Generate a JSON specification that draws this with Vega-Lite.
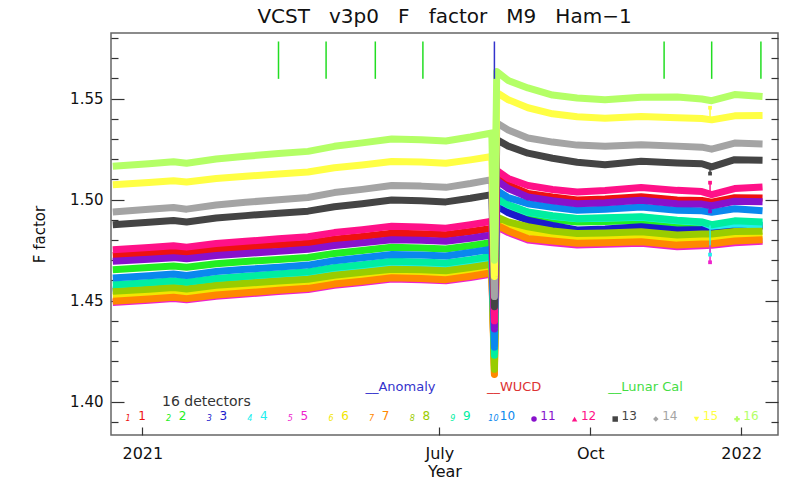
{
"$schema": "https://vega.github.io/schema/vega-lite/v6.json",
"width": 667, "height": 402,
"autosize": {"type": "none"},
"padding": {"left": 111, "top": 33, "right": 15, "bottom": 45},
"background": "#ffffff",
"title": {"text": "VCST\u00a0\u00a0\u00a0v3p0\u00a0\u00a0\u00a0F\u00a0\u00a0\u00a0factor\u00a0\u00a0\u00a0M9\u00a0\u00a0\u00a0Ham\u22121", "font": "DejaVu Sans", "fontSize": 20, "fontWeight": "normal", "color": "#111111", "anchor": "middle", "offset": 6},
"config": {"view": {"stroke": "#666666", "strokeWidth": 1.5}, "font": "DejaVu Sans"},
"datasets": {
"ff": [
{"d":1,"t":"2020-12-14","f":1.4724},{"d":1,"t":"2021-01-05","f":1.4735},{"d":1,"t":"2021-01-20","f":1.4743},{"d":1,"t":"2021-01-28","f":1.4736},{"d":1,"t":"2021-02-15","f":1.4754},{"d":1,"t":"2021-03-05","f":1.4764},{"d":1,"t":"2021-03-25","f":1.4775},{"d":1,"t":"2021-04-12","f":1.4784},{"d":1,"t":"2021-04-28","f":1.4804},{"d":1,"t":"2021-05-15","f":1.4818},{"d":1,"t":"2021-06-02","f":1.4834},{"d":1,"t":"2021-06-20","f":1.4831},{"d":1,"t":"2021-07-05","f":1.4826},{"d":1,"t":"2021-07-20","f":1.4842},{"d":1,"t":"2021-08-02","f":1.4858},
{"d":1,"t":"2021-08-03T14:00","f":1.425},
{"d":1,"t":"2021-08-05","f":1.5113},{"d":1,"t":"2021-08-12","f":1.5073},{"d":1,"t":"2021-08-24","f":1.5031},{"d":1,"t":"2021-09-08","f":1.5013},{"d":1,"t":"2021-09-23","f":1.4998},{"d":1,"t":"2021-10-10","f":1.5003},{"d":1,"t":"2021-11-01","f":1.5015},{"d":1,"t":"2021-11-23","f":1.4998},{"d":1,"t":"2021-12-08","f":1.4996},{"d":1,"t":"2021-12-14","f":1.4988},{"d":1,"t":"2021-12-28","f":1.5010},{"d":1,"t":"2022-01-14","f":1.5008},

{"d":2,"t":"2020-12-14","f":1.4653},{"d":2,"t":"2021-01-05","f":1.4664},{"d":2,"t":"2021-01-20","f":1.4672},{"d":2,"t":"2021-01-28","f":1.4665},{"d":2,"t":"2021-02-15","f":1.4683},{"d":2,"t":"2021-03-05","f":1.4694},{"d":2,"t":"2021-03-25","f":1.4704},{"d":2,"t":"2021-04-12","f":1.4714},{"d":2,"t":"2021-04-28","f":1.4734},{"d":2,"t":"2021-05-15","f":1.4748},{"d":2,"t":"2021-06-02","f":1.4764},{"d":2,"t":"2021-06-20","f":1.4761},{"d":2,"t":"2021-07-05","f":1.4756},{"d":2,"t":"2021-07-20","f":1.4772},{"d":2,"t":"2021-08-02","f":1.4788},
{"d":2,"t":"2021-08-03T14:00","f":1.432},
{"d":2,"t":"2021-08-05","f":1.4987},{"d":2,"t":"2021-08-12","f":1.4957},{"d":2,"t":"2021-08-24","f":1.4921},{"d":2,"t":"2021-09-08","f":1.4902},{"d":2,"t":"2021-09-23","f":1.4889},{"d":2,"t":"2021-10-10","f":1.4892},{"d":2,"t":"2021-11-01","f":1.4897},{"d":2,"t":"2021-11-23","f":1.4880},{"d":2,"t":"2021-12-08","f":1.4872},{"d":2,"t":"2021-12-14","f":1.4858},{"d":2,"t":"2021-12-28","f":1.4877},{"d":2,"t":"2022-01-14","f":1.4872},

{"d":3,"t":"2020-12-14","f":1.4548},{"d":3,"t":"2021-01-05","f":1.4559},{"d":3,"t":"2021-01-20","f":1.4568},{"d":3,"t":"2021-01-28","f":1.4561},{"d":3,"t":"2021-02-15","f":1.4579},{"d":3,"t":"2021-03-05","f":1.4590},{"d":3,"t":"2021-03-25","f":1.4602},{"d":3,"t":"2021-04-12","f":1.4612},{"d":3,"t":"2021-04-28","f":1.4633},{"d":3,"t":"2021-05-15","f":1.4647},{"d":3,"t":"2021-06-02","f":1.4664},{"d":3,"t":"2021-06-20","f":1.4661},{"d":3,"t":"2021-07-05","f":1.4655},{"d":3,"t":"2021-07-20","f":1.4672},{"d":3,"t":"2021-08-02","f":1.4689},
{"d":3,"t":"2021-08-03T14:00","f":1.428},
{"d":3,"t":"2021-08-05","f":1.4970},{"d":3,"t":"2021-08-12","f":1.4935},{"d":3,"t":"2021-08-24","f":1.4898},{"d":3,"t":"2021-09-08","f":1.4872},{"d":3,"t":"2021-09-23","f":1.4850},{"d":3,"t":"2021-10-10","f":1.4855},{"d":3,"t":"2021-11-01","f":1.4866},{"d":3,"t":"2021-11-23","f":1.4850},{"d":3,"t":"2021-12-08","f":1.4852},{"d":3,"t":"2021-12-14","f":1.4856},{"d":3,"t":"2021-12-28","f":1.4866},{"d":3,"t":"2022-01-14","f":1.4870},

{"d":4,"t":"2020-12-14","f":1.4556},{"d":4,"t":"2021-01-05","f":1.4567},{"d":4,"t":"2021-01-20","f":1.4576},{"d":4,"t":"2021-01-28","f":1.4569},{"d":4,"t":"2021-02-15","f":1.4587},{"d":4,"t":"2021-03-05","f":1.4598},{"d":4,"t":"2021-03-25","f":1.4610},{"d":4,"t":"2021-04-12","f":1.4620},{"d":4,"t":"2021-04-28","f":1.4641},{"d":4,"t":"2021-05-15","f":1.4655},{"d":4,"t":"2021-06-02","f":1.4672},{"d":4,"t":"2021-06-20","f":1.4669},{"d":4,"t":"2021-07-05","f":1.4663},{"d":4,"t":"2021-07-20","f":1.4680},{"d":4,"t":"2021-08-02","f":1.4697},
{"d":4,"t":"2021-08-03T14:00","f":1.421},
{"d":4,"t":"2021-08-05","f":1.5003},{"d":4,"t":"2021-08-12","f":1.4973},{"d":4,"t":"2021-08-24","f":1.4937},{"d":4,"t":"2021-09-08","f":1.4918},{"d":4,"t":"2021-09-23","f":1.4905},{"d":4,"t":"2021-10-10","f":1.4908},{"d":4,"t":"2021-11-01","f":1.4913},{"d":4,"t":"2021-11-23","f":1.4896},{"d":4,"t":"2021-12-08","f":1.4888},{"d":4,"t":"2021-12-14","f":1.4868},{"d":4,"t":"2021-12-28","f":1.4880},{"d":4,"t":"2022-01-14","f":1.4874},

{"d":5,"t":"2020-12-14","f":1.4491},{"d":5,"t":"2021-01-05","f":1.4502},{"d":5,"t":"2021-01-20","f":1.4511},{"d":5,"t":"2021-01-28","f":1.4504},{"d":5,"t":"2021-02-15","f":1.4522},{"d":5,"t":"2021-03-05","f":1.4533},{"d":5,"t":"2021-03-25","f":1.4545},{"d":5,"t":"2021-04-12","f":1.4555},{"d":5,"t":"2021-04-28","f":1.4576},{"d":5,"t":"2021-05-15","f":1.4590},{"d":5,"t":"2021-06-02","f":1.4607},{"d":5,"t":"2021-06-20","f":1.4604},{"d":5,"t":"2021-07-05","f":1.4598},{"d":5,"t":"2021-07-20","f":1.4615},{"d":5,"t":"2021-08-02","f":1.4632},
{"d":5,"t":"2021-08-03T14:00","f":1.418},
{"d":5,"t":"2021-08-05","f":1.4866},{"d":5,"t":"2021-08-12","f":1.4837},{"d":5,"t":"2021-08-24","f":1.4800},{"d":5,"t":"2021-09-08","f":1.4787},{"d":5,"t":"2021-09-23","f":1.4776},{"d":5,"t":"2021-10-10","f":1.4779},{"d":5,"t":"2021-11-01","f":1.4784},{"d":5,"t":"2021-11-23","f":1.4767},{"d":5,"t":"2021-12-08","f":1.4772},{"d":5,"t":"2021-12-14","f":1.4774},{"d":5,"t":"2021-12-28","f":1.4787},{"d":5,"t":"2022-01-14","f":1.4794},

{"d":6,"t":"2020-12-14","f":1.4523},{"d":6,"t":"2021-01-05","f":1.4534},{"d":6,"t":"2021-01-20","f":1.4542},{"d":6,"t":"2021-01-28","f":1.4535},{"d":6,"t":"2021-02-15","f":1.4553},{"d":6,"t":"2021-03-05","f":1.4564},{"d":6,"t":"2021-03-25","f":1.4574},{"d":6,"t":"2021-04-12","f":1.4584},{"d":6,"t":"2021-04-28","f":1.4604},{"d":6,"t":"2021-05-15","f":1.4618},{"d":6,"t":"2021-06-02","f":1.4634},{"d":6,"t":"2021-06-20","f":1.4631},{"d":6,"t":"2021-07-05","f":1.4626},{"d":6,"t":"2021-07-20","f":1.4642},{"d":6,"t":"2021-08-02","f":1.4658},
{"d":6,"t":"2021-08-03T14:00","f":1.414},
{"d":6,"t":"2021-08-05","f":1.4891},{"d":6,"t":"2021-08-12","f":1.4866},{"d":6,"t":"2021-08-24","f":1.4842},{"d":6,"t":"2021-09-08","f":1.4821},{"d":6,"t":"2021-09-23","f":1.4809},{"d":6,"t":"2021-10-10","f":1.4811},{"d":6,"t":"2021-11-01","f":1.4817},{"d":6,"t":"2021-11-23","f":1.4801},{"d":6,"t":"2021-12-08","f":1.4806},{"d":6,"t":"2021-12-14","f":1.4806},{"d":6,"t":"2021-12-28","f":1.4818},{"d":6,"t":"2022-01-14","f":1.4819},

{"d":7,"t":"2020-12-14","f":1.4497},{"d":7,"t":"2021-01-05","f":1.4508},{"d":7,"t":"2021-01-20","f":1.4517},{"d":7,"t":"2021-01-28","f":1.4510},{"d":7,"t":"2021-02-15","f":1.4528},{"d":7,"t":"2021-03-05","f":1.4539},{"d":7,"t":"2021-03-25","f":1.4551},{"d":7,"t":"2021-04-12","f":1.4561},{"d":7,"t":"2021-04-28","f":1.4582},{"d":7,"t":"2021-05-15","f":1.4596},{"d":7,"t":"2021-06-02","f":1.4613},{"d":7,"t":"2021-06-20","f":1.4610},{"d":7,"t":"2021-07-05","f":1.4604},{"d":7,"t":"2021-07-20","f":1.4621},{"d":7,"t":"2021-08-02","f":1.4638},
{"d":7,"t":"2021-08-03T14:00","f":1.4135},
{"d":7,"t":"2021-08-05","f":1.4874},{"d":7,"t":"2021-08-12","f":1.4845},{"d":7,"t":"2021-08-24","f":1.4808},{"d":7,"t":"2021-09-08","f":1.4795},{"d":7,"t":"2021-09-23","f":1.4784},{"d":7,"t":"2021-10-10","f":1.4787},{"d":7,"t":"2021-11-01","f":1.4792},{"d":7,"t":"2021-11-23","f":1.4775},{"d":7,"t":"2021-12-08","f":1.4780},{"d":7,"t":"2021-12-14","f":1.4782},{"d":7,"t":"2021-12-28","f":1.4795},{"d":7,"t":"2022-01-14","f":1.4802},

{"d":8,"t":"2020-12-14","f":1.4546},{"d":8,"t":"2021-01-05","f":1.4557},{"d":8,"t":"2021-01-20","f":1.4565},{"d":8,"t":"2021-01-28","f":1.4558},{"d":8,"t":"2021-02-15","f":1.4576},{"d":8,"t":"2021-03-05","f":1.4586},{"d":8,"t":"2021-03-25","f":1.4597},{"d":8,"t":"2021-04-12","f":1.4606},{"d":8,"t":"2021-04-28","f":1.4626},{"d":8,"t":"2021-05-15","f":1.4640},{"d":8,"t":"2021-06-02","f":1.4656},{"d":8,"t":"2021-06-20","f":1.4653},{"d":8,"t":"2021-07-05","f":1.4648},{"d":8,"t":"2021-07-20","f":1.4664},{"d":8,"t":"2021-08-02","f":1.4680},
{"d":8,"t":"2021-08-03T14:00","f":1.416},
{"d":8,"t":"2021-08-05","f":1.4915},{"d":8,"t":"2021-08-12","f":1.4890},{"d":8,"t":"2021-08-24","f":1.4866},{"d":8,"t":"2021-09-08","f":1.4845},{"d":8,"t":"2021-09-23","f":1.4833},{"d":8,"t":"2021-10-10","f":1.4835},{"d":8,"t":"2021-11-01","f":1.4841},{"d":8,"t":"2021-11-23","f":1.4825},{"d":8,"t":"2021-12-08","f":1.4830},{"d":8,"t":"2021-12-14","f":1.4830},{"d":8,"t":"2021-12-28","f":1.4842},{"d":8,"t":"2022-01-14","f":1.4843},

{"d":9,"t":"2020-12-14","f":1.4579},{"d":9,"t":"2021-01-05","f":1.4590},{"d":9,"t":"2021-01-20","f":1.4599},{"d":9,"t":"2021-01-28","f":1.4592},{"d":9,"t":"2021-02-15","f":1.4610},{"d":9,"t":"2021-03-05","f":1.4621},{"d":9,"t":"2021-03-25","f":1.4633},{"d":9,"t":"2021-04-12","f":1.4643},{"d":9,"t":"2021-04-28","f":1.4664},{"d":9,"t":"2021-05-15","f":1.4678},{"d":9,"t":"2021-06-02","f":1.4695},{"d":9,"t":"2021-06-20","f":1.4692},{"d":9,"t":"2021-07-05","f":1.4686},{"d":9,"t":"2021-07-20","f":1.4703},{"d":9,"t":"2021-08-02","f":1.4720},
{"d":9,"t":"2021-08-03T14:00","f":1.423},
{"d":9,"t":"2021-08-05","f":1.5005},{"d":9,"t":"2021-08-12","f":1.4975},{"d":9,"t":"2021-08-24","f":1.4939},{"d":9,"t":"2021-09-08","f":1.4920},{"d":9,"t":"2021-09-23","f":1.4907},{"d":9,"t":"2021-10-10","f":1.4910},{"d":9,"t":"2021-11-01","f":1.4915},{"d":9,"t":"2021-11-23","f":1.4898},{"d":9,"t":"2021-12-08","f":1.4890},{"d":9,"t":"2021-12-14","f":1.4876},{"d":9,"t":"2021-12-28","f":1.4895},{"d":9,"t":"2022-01-14","f":1.4890},

{"d":10,"t":"2020-12-14","f":1.4612},{"d":10,"t":"2021-01-05","f":1.4623},{"d":10,"t":"2021-01-20","f":1.4632},{"d":10,"t":"2021-01-28","f":1.4625},{"d":10,"t":"2021-02-15","f":1.4644},{"d":10,"t":"2021-03-05","f":1.4655},{"d":10,"t":"2021-03-25","f":1.4666},{"d":10,"t":"2021-04-12","f":1.4676},{"d":10,"t":"2021-04-28","f":1.4698},{"d":10,"t":"2021-05-15","f":1.4712},{"d":10,"t":"2021-06-02","f":1.4729},{"d":10,"t":"2021-06-20","f":1.4726},{"d":10,"t":"2021-07-05","f":1.4721},{"d":10,"t":"2021-07-20","f":1.4738},{"d":10,"t":"2021-08-02","f":1.4755},
{"d":10,"t":"2021-08-03T14:00","f":1.427},
{"d":10,"t":"2021-08-05","f":1.5046},{"d":10,"t":"2021-08-12","f":1.5010},{"d":10,"t":"2021-08-24","f":1.4980},{"d":10,"t":"2021-09-08","f":1.4962},{"d":10,"t":"2021-09-23","f":1.4948},{"d":10,"t":"2021-10-10","f":1.4952},{"d":10,"t":"2021-11-01","f":1.4964},{"d":10,"t":"2021-11-23","f":1.4948},{"d":10,"t":"2021-12-08","f":1.4945},{"d":10,"t":"2021-12-14","f":1.4938},{"d":10,"t":"2021-12-28","f":1.4955},{"d":10,"t":"2022-01-14","f":1.4945},

{"d":11,"t":"2020-12-14","f":1.4695},{"d":11,"t":"2021-01-05","f":1.4705},{"d":11,"t":"2021-01-20","f":1.4713},{"d":11,"t":"2021-01-28","f":1.4707},{"d":11,"t":"2021-02-15","f":1.4724},{"d":11,"t":"2021-03-05","f":1.4734},{"d":11,"t":"2021-03-25","f":1.4744},{"d":11,"t":"2021-04-12","f":1.4754},{"d":11,"t":"2021-04-28","f":1.4773},{"d":11,"t":"2021-05-15","f":1.4786},{"d":11,"t":"2021-06-02","f":1.4802},{"d":11,"t":"2021-06-20","f":1.4799},{"d":11,"t":"2021-07-05","f":1.4794},{"d":11,"t":"2021-07-20","f":1.4809},{"d":11,"t":"2021-08-02","f":1.4825},
{"d":11,"t":"2021-08-03T14:00","f":1.436},
{"d":11,"t":"2021-08-05","f":1.5095},{"d":11,"t":"2021-08-12","f":1.5055},{"d":11,"t":"2021-08-24","f":1.5013},{"d":11,"t":"2021-09-08","f":1.4995},{"d":11,"t":"2021-09-23","f":1.4980},{"d":11,"t":"2021-10-10","f":1.4985},{"d":11,"t":"2021-11-01","f":1.4997},{"d":11,"t":"2021-11-23","f":1.4980},{"d":11,"t":"2021-12-08","f":1.4978},{"d":11,"t":"2021-12-14","f":1.4970},{"d":11,"t":"2021-12-28","f":1.4992},{"d":11,"t":"2022-01-14","f":1.4990},

{"d":12,"t":"2020-12-14","f":1.4752},{"d":12,"t":"2021-01-05","f":1.4763},{"d":12,"t":"2021-01-20","f":1.4772},{"d":12,"t":"2021-01-28","f":1.4765},{"d":12,"t":"2021-02-15","f":1.4783},{"d":12,"t":"2021-03-05","f":1.4794},{"d":12,"t":"2021-03-25","f":1.4806},{"d":12,"t":"2021-04-12","f":1.4816},{"d":12,"t":"2021-04-28","f":1.4837},{"d":12,"t":"2021-05-15","f":1.4851},{"d":12,"t":"2021-06-02","f":1.4868},{"d":12,"t":"2021-06-20","f":1.4865},{"d":12,"t":"2021-07-05","f":1.4859},{"d":12,"t":"2021-07-20","f":1.4876},{"d":12,"t":"2021-08-02","f":1.4893},
{"d":12,"t":"2021-08-03T14:00","f":1.440},
{"d":12,"t":"2021-08-05","f":1.5145},{"d":12,"t":"2021-08-12","f":1.5105},{"d":12,"t":"2021-08-24","f":1.5070},{"d":12,"t":"2021-09-08","f":1.5050},{"d":12,"t":"2021-09-23","f":1.5038},{"d":12,"t":"2021-10-10","f":1.5045},{"d":12,"t":"2021-11-01","f":1.5060},{"d":12,"t":"2021-11-23","f":1.5046},{"d":12,"t":"2021-12-08","f":1.5040},{"d":12,"t":"2021-12-14","f":1.5025},{"d":12,"t":"2021-12-28","f":1.5055},{"d":12,"t":"2022-01-14","f":1.5063},

{"d":13,"t":"2020-12-14","f":1.4876},{"d":13,"t":"2021-01-05","f":1.4888},{"d":13,"t":"2021-01-20","f":1.4897},{"d":13,"t":"2021-01-28","f":1.4889},{"d":13,"t":"2021-02-15","f":1.4909},{"d":13,"t":"2021-03-05","f":1.4921},{"d":13,"t":"2021-03-25","f":1.4933},{"d":13,"t":"2021-04-12","f":1.4943},{"d":13,"t":"2021-04-28","f":1.4965},{"d":13,"t":"2021-05-15","f":1.4980},{"d":13,"t":"2021-06-02","f":1.4998},{"d":13,"t":"2021-06-20","f":1.4995},{"d":13,"t":"2021-07-05","f":1.4989},{"d":13,"t":"2021-07-20","f":1.5007},{"d":13,"t":"2021-08-02","f":1.5025},
{"d":13,"t":"2021-08-03T14:00","f":1.447},
{"d":13,"t":"2021-08-05","f":1.5297},{"d":13,"t":"2021-08-12","f":1.5265},{"d":13,"t":"2021-08-24","f":1.5230},{"d":13,"t":"2021-09-08","f":1.5205},{"d":13,"t":"2021-09-23","f":1.5185},{"d":13,"t":"2021-10-10","f":1.5173},{"d":13,"t":"2021-11-01","f":1.5190},{"d":13,"t":"2021-11-23","f":1.5182},{"d":13,"t":"2021-12-08","f":1.5178},{"d":13,"t":"2021-12-14","f":1.5162},{"d":13,"t":"2021-12-28","f":1.5198},{"d":13,"t":"2022-01-14","f":1.5195},

{"d":14,"t":"2020-12-14","f":1.4939},{"d":14,"t":"2021-01-05","f":1.4952},{"d":14,"t":"2021-01-20","f":1.4961},{"d":14,"t":"2021-01-28","f":1.4953},{"d":14,"t":"2021-02-15","f":1.4974},{"d":14,"t":"2021-03-05","f":1.4987},{"d":14,"t":"2021-03-25","f":1.5000},{"d":14,"t":"2021-04-12","f":1.5011},{"d":14,"t":"2021-04-28","f":1.5035},{"d":14,"t":"2021-05-15","f":1.5051},{"d":14,"t":"2021-06-02","f":1.5070},{"d":14,"t":"2021-06-20","f":1.5067},{"d":14,"t":"2021-07-05","f":1.5061},{"d":14,"t":"2021-07-20","f":1.5080},{"d":14,"t":"2021-08-02","f":1.5099},
{"d":14,"t":"2021-08-03T14:00","f":1.452},
{"d":14,"t":"2021-08-05","f":1.5380},{"d":14,"t":"2021-08-12","f":1.5345},{"d":14,"t":"2021-08-24","f":1.5305},{"d":14,"t":"2021-09-08","f":1.5285},{"d":14,"t":"2021-09-23","f":1.5270},{"d":14,"t":"2021-10-10","f":1.5264},{"d":14,"t":"2021-11-01","f":1.5272},{"d":14,"t":"2021-11-23","f":1.5265},{"d":14,"t":"2021-12-08","f":1.5260},{"d":14,"t":"2021-12-14","f":1.5250},{"d":14,"t":"2021-12-28","f":1.5280},{"d":14,"t":"2022-01-14","f":1.5276},

{"d":15,"t":"2020-12-14","f":1.5074},{"d":15,"t":"2021-01-05","f":1.5085},{"d":15,"t":"2021-01-20","f":1.5094},{"d":15,"t":"2021-01-28","f":1.5087},{"d":15,"t":"2021-02-15","f":1.5105},{"d":15,"t":"2021-03-05","f":1.5116},{"d":15,"t":"2021-03-25","f":1.5127},{"d":15,"t":"2021-04-12","f":1.5137},{"d":15,"t":"2021-04-28","f":1.5158},{"d":15,"t":"2021-05-15","f":1.5172},{"d":15,"t":"2021-06-02","f":1.5189},{"d":15,"t":"2021-06-20","f":1.5186},{"d":15,"t":"2021-07-05","f":1.5180},{"d":15,"t":"2021-07-20","f":1.5197},{"d":15,"t":"2021-08-02","f":1.5214},
{"d":15,"t":"2021-08-03T14:00","f":1.462},
{"d":15,"t":"2021-08-05","f":1.5530},{"d":15,"t":"2021-08-12","f":1.5495},{"d":15,"t":"2021-08-24","f":1.5455},{"d":15,"t":"2021-09-08","f":1.5425},{"d":15,"t":"2021-09-23","f":1.5410},{"d":15,"t":"2021-10-10","f":1.5403},{"d":15,"t":"2021-11-01","f":1.5412},{"d":15,"t":"2021-11-23","f":1.5405},{"d":15,"t":"2021-12-08","f":1.5402},{"d":15,"t":"2021-12-14","f":1.5395},{"d":15,"t":"2021-12-28","f":1.5415},{"d":15,"t":"2022-01-14","f":1.5416},

{"d":16,"t":"2020-12-14","f":1.5165},{"d":16,"t":"2021-01-05","f":1.5178},{"d":16,"t":"2021-01-20","f":1.5188},{"d":16,"t":"2021-01-28","f":1.5180},{"d":16,"t":"2021-02-15","f":1.5201},{"d":16,"t":"2021-03-05","f":1.5215},{"d":16,"t":"2021-03-25","f":1.5228},{"d":16,"t":"2021-04-12","f":1.5239},{"d":16,"t":"2021-04-28","f":1.5264},{"d":16,"t":"2021-05-15","f":1.5281},{"d":16,"t":"2021-06-02","f":1.5300},{"d":16,"t":"2021-06-20","f":1.5297},{"d":16,"t":"2021-07-05","f":1.5290},{"d":16,"t":"2021-07-20","f":1.5310},{"d":16,"t":"2021-08-02","f":1.5330},
{"d":16,"t":"2021-08-03T14:00","f":1.470},
{"d":16,"t":"2021-08-05","f":1.5635},{"d":16,"t":"2021-08-12","f":1.5590},{"d":16,"t":"2021-08-24","f":1.5553},{"d":16,"t":"2021-09-08","f":1.5518},{"d":16,"t":"2021-09-23","f":1.5503},{"d":16,"t":"2021-10-10","f":1.5495},{"d":16,"t":"2021-11-01","f":1.5507},{"d":16,"t":"2021-11-23","f":1.5508},{"d":16,"t":"2021-12-08","f":1.5498},{"d":16,"t":"2021-12-14","f":1.5490},{"d":16,"t":"2021-12-28","f":1.5520},{"d":16,"t":"2022-01-14","f":1.5511}
],
"outl": [
{"d":4,"t":"2021-12-13","lo":1.4872,"hi":1.4728},
{"d":5,"t":"2021-12-13","lo":1.4774,"hi":1.4690},
{"d":11,"t":"2021-12-13","lo":1.4971,"hi":1.4942},
{"d":12,"t":"2021-12-13","lo":1.5028,"hi":1.5084},
{"d":13,"t":"2021-12-13","lo":1.5165,"hi":1.5129},
{"d":15,"t":"2021-12-13","lo":1.5397,"hi":1.5455}
],
"lunar": [{"t":"2021-03-25"},{"t":"2021-04-23"},{"t":"2021-05-23"},{"t":"2021-06-21"},{"t":"2021-11-15"},{"t":"2021-12-14"},{"t":"2022-01-13"}],
"anomaly": [{"t":"2021-08-03T14:00"}],
"det": [{"d":1},{"d":2},{"d":3},{"d":4},{"d":5},{"d":6},{"d":7},{"d":8},{"d":9},{"d":10},{"d":11},{"d":12},{"d":13},{"d":14},{"d":15},{"d":16}]
},
"layer": [
 {"data": {"name": "ff"},
  "mark": {"type": "line", "strokeWidth": 7, "strokeCap": "butt", "strokeJoin": "round"},
  "encoding": {
   "x": {"field": "t", "type": "temporal",
     "scale": {"domain": [{"year": 2020, "month": 12, "date": 12, "hours": 22}, {"year": 2022, "month": 1, "date": 23, "hours": 10}], "nice": false},
     "axis": {"values": [{"year": 2021, "month": 1, "date": 1}, {"year": 2021, "month": 7, "date": 1}, {"year": 2021, "month": 10, "date": 1}, {"year": 2022, "month": 1, "date": 1}],
       "labelExpr": "month(datum.value)==6 ? 'July' : (month(datum.value)==9 ? 'Oct' : timeFormat(datum.value, '%Y'))",
       "tickSize": -8, "tickColor": "#333333", "tickWidth": 1.2, "domain": false, "grid": false,
       "labelFont": "DejaVu Sans", "labelFontSize": 16, "labelColor": "#111111", "labelPadding": 18, "labelFlush": false,
       "title": "Year", "titleFont": "DejaVu Sans", "titleFontSize": 16, "titleFontWeight": "normal", "titleColor": "#111111", "titlePadding": 2}},
   "y": {"field": "f", "type": "quantitative",
     "scale": {"domain": [1.3835, 1.5825], "nice": false, "zero": false},
     "axis": {"orient": "left", "values": [1.39,1.40,1.41,1.42,1.43,1.44,1.45,1.46,1.47,1.48,1.49,1.50,1.51,1.52,1.53,1.54,1.55,1.56,1.57,1.58],
       "labelExpr": "round(datum.value*100)%5==0 ? format(datum.value, '.2f') : ''",
       "tickSize": {"condition": {"test": "round(datum.value*100)%5==0", "value": -13}, "value": -7},
       "tickColor": "#333333", "tickWidth": 1.2, "domain": false, "grid": false,
       "labelFont": "DejaVu Sans", "labelFontSize": 15, "labelColor": "#111111", "labelPadding": 21,
       "title": "F factor", "titleFont": "DejaVu Sans", "titleFontSize": 15, "titleFontWeight": "normal", "titleColor": "#111111", "titlePadding": 22}},
   "color": {"field": "d", "type": "nominal",
     "scale": {"domain": [1,2,3,4,5,6,7,8,9,10,11,12,13,14,15,16],
       "range": ["#ee1111","#22ee22","#1a1acc","#22eeee","#ee22cc","#f2e600","#ff8800","#99cc00","#00eea0","#0a88ee","#8811cc","#ff1188","#444444","#a4a4a4","#ffff44","#b4ff66"]},
     "legend": null}
  }},
 {"data": {"name": "outl"},
  "mark": {"type": "rule", "strokeWidth": 1.5},
  "encoding": {"x": {"field": "t", "type": "temporal", "scale": {"domain": [{"year": 2020, "month": 12, "date": 12, "hours": 22}, {"year": 2022, "month": 1, "date": 23, "hours": 10}], "nice": false}, "axis": null},
   "y": {"field": "lo", "type": "quantitative", "axis": null}, "y2": {"field": "hi"},
   "color": {"field": "d", "type": "nominal", "legend": null}}},
 {"data": {"name": "outl"},
  "mark": {"type": "square", "size": 14, "opacity": 1},
  "encoding": {"x": {"field": "t", "type": "temporal", "scale": {"domain": [{"year": 2020, "month": 12, "date": 12, "hours": 22}, {"year": 2022, "month": 1, "date": 23, "hours": 10}], "nice": false}, "axis": null},
   "y": {"field": "hi", "type": "quantitative", "axis": null},
   "color": {"field": "d", "type": "nominal", "legend": null}}},
 {"data": {"name": "lunar"},
  "mark": {"type": "rule", "color": "#22dd22", "strokeWidth": 1.5},
  "encoding": {"x": {"field": "t", "type": "temporal", "scale": {"domain": [{"year": 2020, "month": 12, "date": 12, "hours": 22}, {"year": 2022, "month": 1, "date": 23, "hours": 10}], "nice": false}, "axis": null}, "y": {"datum": 1.5598, "axis": null}, "y2": {"datum": 1.5783}}},
 {"data": {"name": "anomaly"},
  "mark": {"type": "rule", "color": "#3333cc", "strokeWidth": 1.5},
  "encoding": {"x": {"field": "t", "type": "temporal", "scale": {"domain": [{"year": 2020, "month": 12, "date": 12, "hours": 22}, {"year": 2022, "month": 1, "date": 23, "hours": 10}], "nice": false}, "axis": null}, "y": {"datum": 1.5598, "axis": null}, "y2": {"datum": 1.5783}}},
 {"data": {"values": [{}]},
  "mark": {"type": "text", "text": "16 detectors", "align": "left", "baseline": "middle", "font": "DejaVu Sans", "fontSize": 14, "color": "#333333"},
  "encoding": {"x": {"datum": {"year": 2021, "month": 1, "date": 13}, "type": "temporal", "scale": {"domain": [{"year": 2020, "month": 12, "date": 12, "hours": 22}, {"year": 2022, "month": 1, "date": 23, "hours": 10}], "nice": false}, "axis": null}, "y": {"datum": 1.3999, "axis": null}}},
 {"data": {"values": [{}]},
  "mark": {"type": "text", "text": "__Anomaly", "align": "left", "baseline": "middle", "font": "DejaVu Sans", "fontSize": 13, "color": "#3333cc"},
  "encoding": {"x": {"datum": {"year": 2021, "month": 5, "date": 17}, "type": "temporal", "scale": {"domain": [{"year": 2020, "month": 12, "date": 12, "hours": 22}, {"year": 2022, "month": 1, "date": 23, "hours": 10}], "nice": false}, "axis": null}, "y": {"datum": 1.4074, "axis": null}}},
 {"data": {"values": [{}]},
  "mark": {"type": "text", "text": "__WUCD", "align": "left", "baseline": "middle", "font": "DejaVu Sans", "fontSize": 13, "color": "#dd3333"},
  "encoding": {"x": {"datum": {"year": 2021, "month": 7, "date": 30}, "type": "temporal", "scale": {"domain": [{"year": 2020, "month": 12, "date": 12, "hours": 22}, {"year": 2022, "month": 1, "date": 23, "hours": 10}], "nice": false}, "axis": null}, "y": {"datum": 1.4074, "axis": null}}},
 {"data": {"values": [{}]},
  "mark": {"type": "text", "text": "__Lunar Cal", "align": "left", "baseline": "middle", "font": "DejaVu Sans", "fontSize": 13, "color": "#44dd44"},
  "encoding": {"x": {"datum": {"year": 2021, "month": 10, "date": 12}, "type": "temporal", "scale": {"domain": [{"year": 2020, "month": 12, "date": 12, "hours": 22}, {"year": 2022, "month": 1, "date": 23, "hours": 10}], "nice": false}, "axis": null}, "y": {"datum": 1.4074, "axis": null}}},
 {"data": {"name": "det"},
  "transform": [{"filter": "datum.d >= 11"}],
  "mark": {"type": "point", "filled": true, "size": 30, "opacity": 1},
  "encoding": {
   "x": {"field": "d", "type": "quantitative", "scale": {"domain": [0.581, 17.01], "nice": false, "zero": false}, "axis": null},
   "y": {"datum": 1.3914, "type": "quantitative",
     "axis": {"orient": "right", "values": [1.39,1.40,1.41,1.42,1.43,1.44,1.45,1.46,1.47,1.48,1.49,1.50,1.51,1.52,1.53,1.54,1.55,1.56,1.57,1.58],
       "labels": false, "tickSize": {"condition": {"test": "round(datum.value*100)%5==0", "value": -13}, "value": -7},
       "tickColor": "#333333", "tickWidth": 1.2, "domain": false, "grid": false, "title": null}},
   "shape": {"field": "d", "type": "nominal", "scale": {"domain": [11,12,13,14,15,16], "range": ["circle","triangle-up","square","diamond","triangle-down","cross"]}, "legend": null},
   "color": {"field": "d", "type": "nominal", "legend": null}
  }},
 {"data": {"name": "det"},
  "transform": [{"filter": "datum.d <= 10"}],
  "mark": {"type": "text", "align": "center", "baseline": "middle", "font": "DejaVu Sans", "fontSize": 8, "fontStyle": "italic"},
  "encoding": {
   "x": {"field": "d", "type": "quantitative", "scale": {"domain": [0.581, 17.01], "nice": false, "zero": false}, "axis": null},
   "y": {"datum": 1.3912, "type": "quantitative", "axis": null},
   "text": {"field": "d", "type": "nominal"},
   "color": {"field": "d", "type": "nominal", "legend": null}
  }},
 {"data": {"name": "det"},
  "mark": {"type": "text", "align": "center", "baseline": "middle", "font": "DejaVu Sans", "fontSize": 12, "dx": 14},
  "encoding": {
   "x": {"field": "d", "type": "quantitative", "scale": {"domain": [0.581, 17.01], "nice": false, "zero": false}, "axis": null},
   "y": {"datum": 1.3927, "type": "quantitative", "axis": null},
   "text": {"field": "d", "type": "nominal"},
   "color": {"field": "d", "type": "nominal", "legend": null}
  }}
],
"resolve": {"scale": {"x": "independent"}, "axis": {"y": "independent"}}
}
